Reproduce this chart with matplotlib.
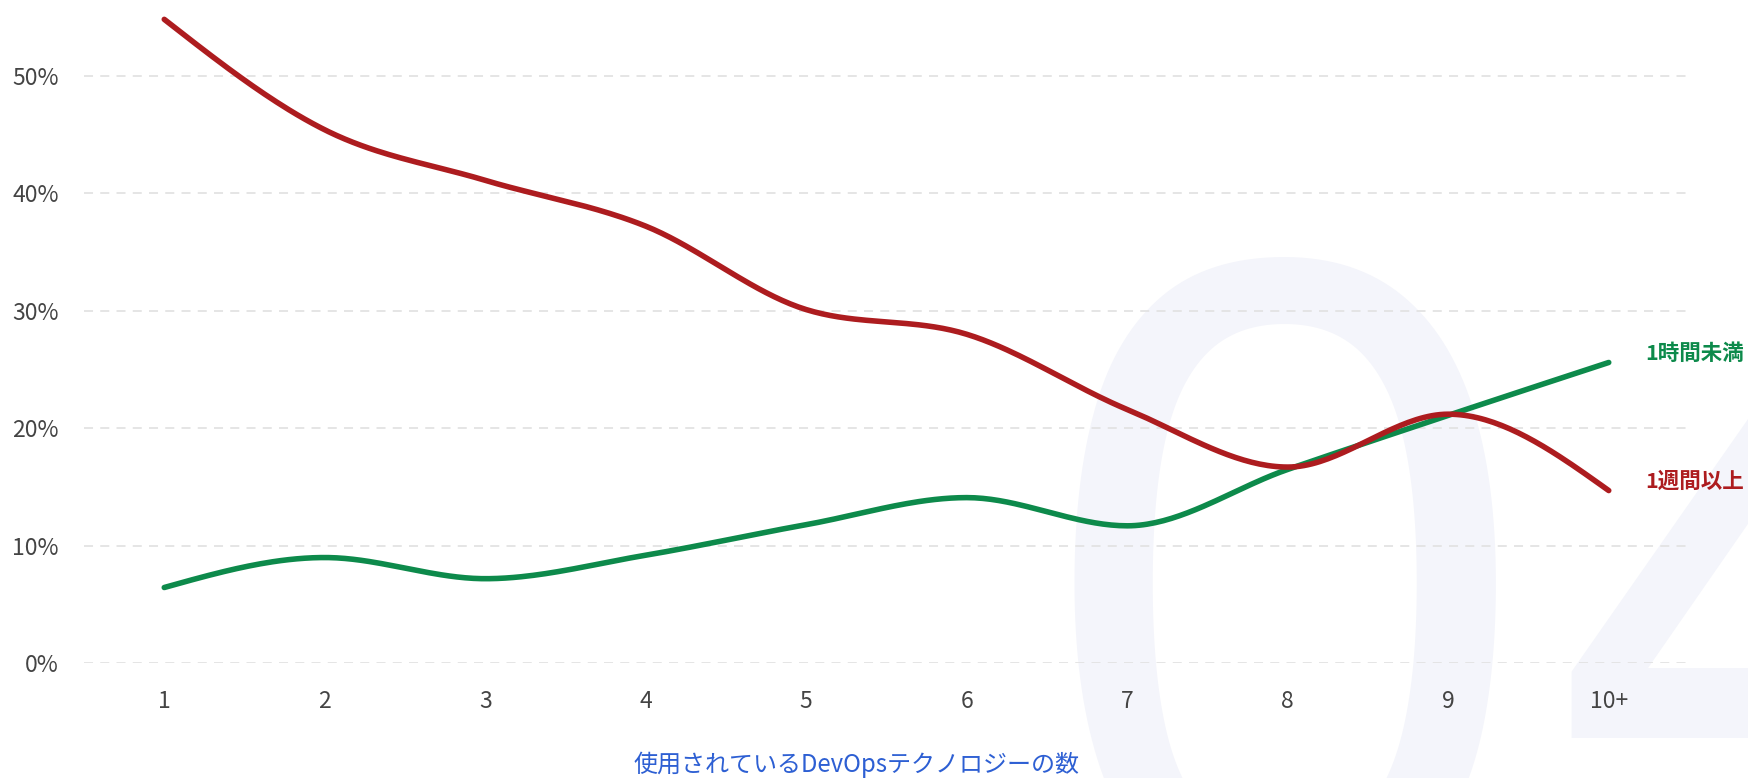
import matplotlib.pyplot as plt
import numpy as np

plt.rcParams['font.family'] = ['Noto Sans CJK JP', 'DejaVu Sans']

x_labels = ['1', '2', '3', '4', '5', '6', '7', '8', '9', '10+']
week_plus = [54.8, 45.4, 41.1, 37.2, 30.1, 28.0, 21.6, 16.7, 21.2, 14.7]
under_hour = [6.45, 9.0, 7.2, 9.2, 11.8, 14.1, 11.7, 16.5, 21.1, 25.6]
y_ticks = [0, 10, 20, 30, 40, 50]

RED = '#ad1c1f'
GREEN = '#0d8a4b'


def monotone_x(xs, ys, n=40):
    # same smoothing as d3.curveMonotoneX
    xs = np.asarray(xs, float)
    ys = np.asarray(ys, float)
    h = np.diff(xs)
    s = np.diff(ys) / h
    t = np.zeros(len(xs))
    for i in range(1, len(xs) - 1):
        p = (s[i - 1] * h[i] + s[i] * h[i - 1]) / (h[i - 1] + h[i])
        t[i] = (np.sign(s[i - 1]) + np.sign(s[i])) * min(abs(s[i - 1]), abs(s[i]), 0.5 * abs(p))
    t[0] = (3 * s[0] - t[1]) / 2
    t[-1] = (3 * s[-1] - t[-2]) / 2
    px, py = [], []
    for i in range(len(xs) - 1):
        u = np.linspace(0, 1, n, endpoint=(i == len(xs) - 2))
        h00 = 2 * u**3 - 3 * u**2 + 1
        h10 = u**3 - 2 * u**2 + u
        h01 = -2 * u**3 + 3 * u**2
        h11 = u**3 - u**2
        px.append(xs[i] + u * h[i])
        py.append(h00 * ys[i] + h10 * h[i] * t[i] + h01 * ys[i + 1] + h11 * h[i] * t[i + 1])
    return np.concatenate(px), np.concatenate(py)


W, H = 1748, 778
fig = plt.figure(figsize=(W / 100, H / 100), dpi=100)

# background watermark "04"
wm = dict(fontsize=640, color='#f4f5fb', family='Noto Sans', fontweight='bold',
          ha='left', va='baseline', zorder=0)
fig.text(1030 / W, 1 - 901 / H, '0', **wm)
fig.text(1552 / W, 1 - 882 / H, '4', **wm)

ax = fig.add_axes([84 / W, 1 - 663.3 / H, (1689 - 84) / W, (663.3 - 17) / H])
ax.set_zorder(2)
ax.set_facecolor('none')
ax.set_xlim(0.5, 10.5)
ax.set_ylim(0, 55)

xs = np.arange(1, len(x_labels) + 1)
for yv in y_ticks:
    ax.axhline(yv, color='#e3e3e3', lw=1.3, ls=(0, (5, 4)), zorder=1)

rx, ry = monotone_x(xs, week_plus)
gx, gy = monotone_x(xs, under_hour)
ax.plot(gx, gy, color=GREEN, lw=4, solid_capstyle='round', clip_on=False, zorder=3)
ax.plot(rx, ry, color=RED, lw=4, solid_capstyle='round', clip_on=False, zorder=4)

ax.text(xs[-1] + 0.23, under_hour[-1] + 0.8, '1時間未満', color=GREEN, fontsize=15.5,
        fontweight='bold', va='center', ha='left')
ax.text(xs[-1] + 0.23, week_plus[-1] + 0.8, '1週間以上', color=RED, fontsize=15.5,
        fontweight='bold', va='center', ha='left')

ax.set_xticks(xs)
ax.set_xticklabels(x_labels)
ax.set_yticks(y_ticks)
ax.set_yticklabels([f'{v}%' for v in y_ticks])
ax.tick_params(length=0, labelsize=16.5, labelcolor='#444444')
ax.tick_params(axis='x', pad=19)
ax.tick_params(axis='y', pad=18)
for sp in ax.spines.values():
    sp.set_visible(False)

fig.text(856 / W, 1 - 765 / H, '使用されているDevOpsテクノロジーの数', color='#2d5fd3',
         fontsize=17.3, ha='center', va='center')

fig.savefig('out.png', dpi=100)
